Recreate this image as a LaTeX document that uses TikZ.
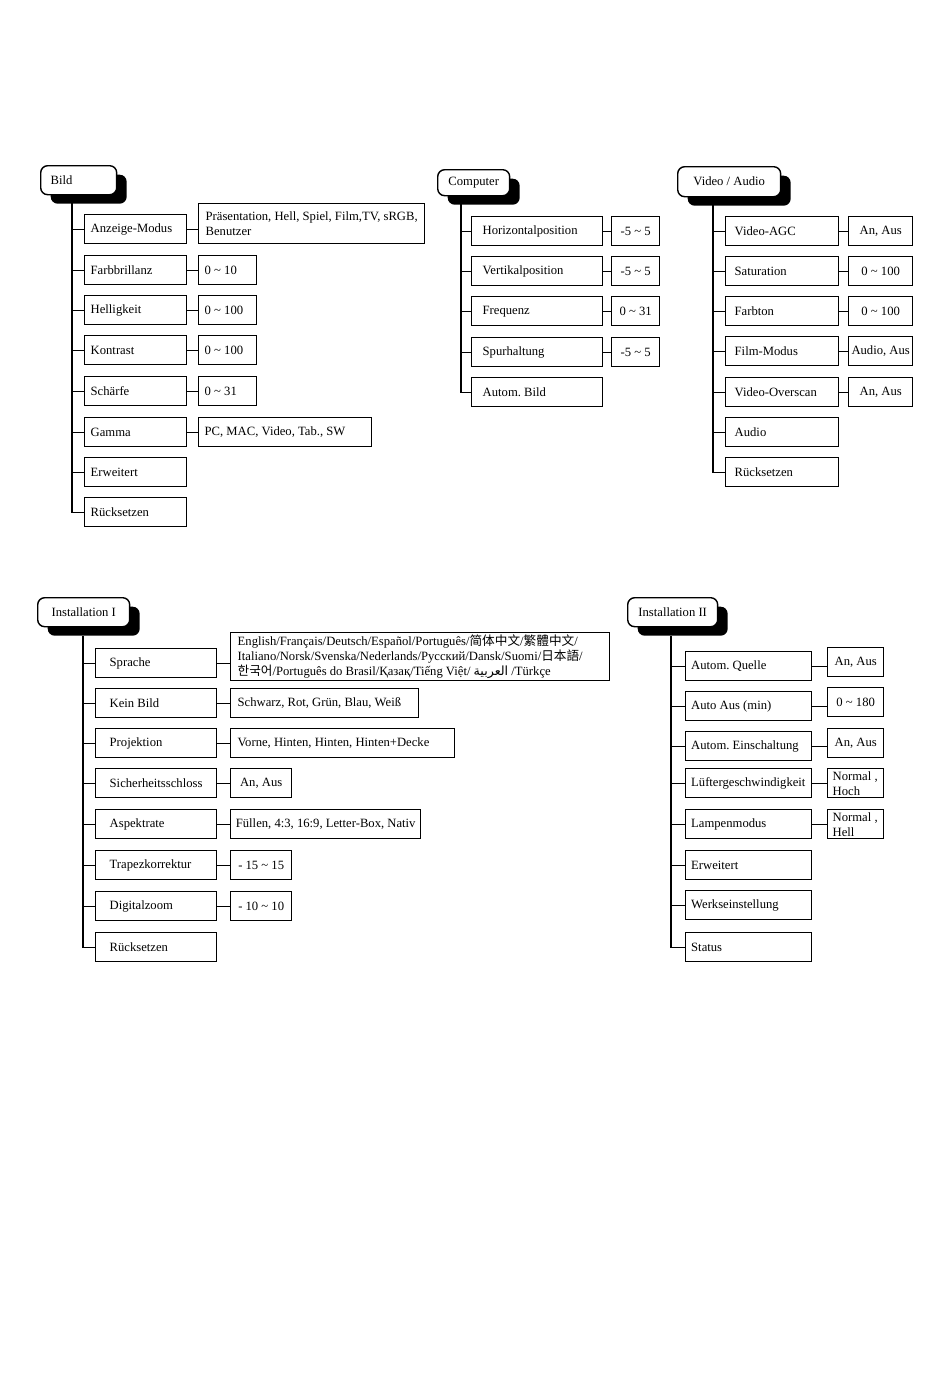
\documentclass[tikz,border=0pt]{standalone}
\usepackage{fontspec}
\setmainfont{Liberation Serif}
\newfontfamily\cjk{Noto Sans CJK SC}
\newfontfamily\krfont{Noto Sans CJK KR}
\newfontfamily\arabicfont[Script=Arabic]{DejaVu Sans}
\TeXXeTstate=1
\frenchspacing
\usetikzlibrary{shadows}
\newcommand*{\bis}{\textasciitilde}

\tikzset{
  head/.style={draw, fill=white, line width=0.8pt, rounded corners=0.14cm,
    anchor=north west, inner xsep=0.2cm, inner ysep=0pt, minimum height=0.58cm,
    align=flush left, drop shadow={shadow xshift=0.2cm, shadow yshift=-0.18cm,
    fill=black, opacity=1}},
  cell/.style={draw, line width=0.8pt, anchor=north west, inner ysep=0pt,
    minimum height=0.58cm},
  entry/.style={cell, align=flush left, text width=#1},
  pick/.style={cell, align=center, inner xsep=0.04cm, minimum width=#1},
  wire/.style={line width=0.8pt},
  every node/.style={font=\fontsize{7.2}{8.5}\selectfont}
}

\begin{document}
\begin{tikzpicture}[x=0.02cm, y=-0.02cm]
\useasboundingbox (0,0) rectangle (950,1387);

%bild
\node[head, text width=1.12cm] (bild) at (40,165) {Bild};
\coordinate (bildroot) at (72,203);
\begin{scope}[inner xsep=0.12cm]
\node[entry=1.80cm] (bmodus) at (84,214) {Anzeige-Modus};
\node[entry=1.80cm] (bfarb) at (84,255) {Farbbrillanz};
\node[entry=1.80cm] (bhell) at (84,295) {Helligkeit};
\node[entry=1.80cm] (bkontr) at (84,335) {Kontrast};
\node[entry=1.80cm] (bschaerfe) at (84,376) {Schärfe};
\node[entry=1.80cm] (bgamma) at (84,417) {Gamma};
\node[entry=1.80cm] (berw) at (84,457) {Erweitert};
\node[entry=1.80cm] (breset) at (84,497) {Rücksetzen};
\node[cell, align=left, minimum width=4.52cm, minimum height=0.8cm, inner xsep=0.1cm]
  (bmodusv) at (198,203) {Präsentation, Hell, Spiel, Film,TV, sRGB,\\Benutzer};
\node[entry=0.92cm] (bfarbv) at (198,255) {0 \bis{} 10};
\node[entry=0.92cm] (bhellv) at (198,295) {0 \bis{} 100};
\node[entry=0.92cm] (bkontrv) at (198,335) {0 \bis{} 100};
\node[entry=0.92cm] (bschaerfev) at (198,376) {0 \bis{} 31};
\node[entry=3.22cm] (bgammav) at (198,417) {PC, MAC, Video, Tab., SW};
\end{scope}
\draw[wire] (bildroot) |- (breset);
\draw[wire] (bmodus) -- (bmodus -| bildroot);
\draw[wire] (bfarb) -- (bfarb -| bildroot);
\draw[wire] (bhell) -- (bhell -| bildroot);
\draw[wire] (bkontr) -- (bkontr -| bildroot);
\draw[wire] (bschaerfe) -- (bschaerfe -| bildroot);
\draw[wire] (bgamma) -- (bgamma -| bildroot);
\draw[wire] (berw) -- (berw -| bildroot);
\draw[wire] (bmodus) -- (bmodus -| bmodusv.west);
\draw[wire] (bfarb) -- (bfarbv);
\draw[wire] (bhell) -- (bhellv);
\draw[wire] (bkontr) -- (bkontrv);
\draw[wire] (bschaerfe) -- (bschaerfev);
\draw[wire] (bgamma) -- (bgamma -| bgammav.west);

%computer
\node[head, minimum width=1.44cm, minimum height=0.52cm] (comp) at (437,169) {Computer};
\coordinate (comproot) at (461,203);
\begin{scope}[inner xsep=0.22cm]
\node[entry=2.18cm] (chpos) at (471,216) {Horizontalposition};
\node[entry=2.18cm] (cvpos) at (471,256) {Vertikalposition};
\node[entry=2.18cm] (cfreq) at (471,296) {Frequenz};
\node[entry=2.18cm] (cspur) at (471,337) {Spurhaltung};
\node[entry=2.18cm] (cauto) at (471,377) {Autom. Bild};
\end{scope}
\node[pick=0.96cm] (chposv) at (611,216) {-5 \bis{} 5};
\node[pick=0.96cm] (cvposv) at (611,256) {-5 \bis{} 5};
\node[pick=0.96cm] (cfreqv) at (611,296) {0 \bis{} 31};
\node[pick=0.96cm] (cspurv) at (611,337) {-5 \bis{} 5};
\draw[wire] (comproot) |- (cauto);
\draw[wire] (chpos) -- (chpos -| comproot);
\draw[wire] (cvpos) -- (cvpos -| comproot);
\draw[wire] (cfreq) -- (cfreq -| comproot);
\draw[wire] (cspur) -- (cspur -| comproot);
\draw[wire] (chpos) -- (chposv);
\draw[wire] (cvpos) -- (cvposv);
\draw[wire] (cfreq) -- (cfreqv);
\draw[wire] (cspur) -- (cspurv);

%video / audio
\node[head, minimum width=2.06cm, minimum height=0.6cm] (video) at (677,166) {Video / Audio};
\coordinate (videoroot) at (713,205);
\begin{scope}[inner xsep=0.18cm]
\node[entry=1.90cm] (vagc) at (725,216) {Video-AGC};
\node[entry=1.90cm] (vsat) at (725,256) {Saturation};
\node[entry=1.90cm] (vton) at (725,296) {Farbton};
\node[entry=1.90cm] (vfilm) at (725,336) {Film-Modus};
\node[entry=1.90cm] (vover) at (725,377) {Video-Overscan};
\node[entry=1.90cm] (vaudio) at (725,417) {Audio};
\node[entry=1.90cm] (vreset) at (725,457) {Rücksetzen};
\end{scope}
\node[pick=1.28cm] (vagcv) at (848,216) {An, Aus};
\node[pick=1.28cm] (vsatv) at (848,256) {0 \bis{} 100};
\node[pick=1.28cm] (vtonv) at (848,296) {0 \bis{} 100};
\node[pick=1.28cm] (vfilmv) at (848,336) {Audio, Aus};
\node[pick=1.28cm] (voverv) at (848,377) {An, Aus};
\draw[wire] (videoroot) |- (vreset);
\draw[wire] (vagc) -- (vagc -| videoroot);
\draw[wire] (vsat) -- (vsat -| videoroot);
\draw[wire] (vton) -- (vton -| videoroot);
\draw[wire] (vfilm) -- (vfilm -| videoroot);
\draw[wire] (vover) -- (vover -| videoroot);
\draw[wire] (vaudio) -- (vaudio -| videoroot);
\draw[wire] (vagc) -- (vagcv);
\draw[wire] (vsat) -- (vsatv);
\draw[wire] (vton) -- (vtonv);
\draw[wire] (vfilm) -- (vfilmv);
\draw[wire] (vover) -- (voverv);

%installation I
\node[head, minimum width=1.84cm] (inst) at (37,597) {Installation I};
\coordinate (instroot) at (83,636);
\begin{scope}[inner xsep=0.28cm]
\node[entry=1.86cm] (isprache) at (95,648) {Sprache};
\node[entry=1.86cm] (ikein) at (95,688) {Kein Bild};
\node[entry=1.86cm] (iproj) at (95,728) {Projektion};
\node[entry=1.86cm] (isicher) at (95,768) {Sicherheitsschloss};
\node[entry=1.86cm] (iaspekt) at (95,809) {Aspektrate};
\node[entry=1.86cm] (itrapez) at (95,850) {Trapezkorrektur};
\node[entry=1.86cm] (izoom) at (95,891) {Digitalzoom};
\node[entry=1.86cm] (ireset) at (95,932) {Rücksetzen};
\end{scope}
\begin{scope}[inner xsep=0.14cm]
\node[entry=7.30cm, minimum height=0.96cm] (isprachev) at (230,632)
  {English/Français/Deutsch/Español/Português/{\cjk 简体中文}/{\cjk 繁體中文}/\\
   Italiano/Norsk/Svenska/Nederlands/Русский/Dansk/Suomi/{\cjk 日本語}/\\
   {\krfont 한국어}/Português do Brasil/Қазақ/Tiếng Việt/ {\arabicfont\beginR العربية\endR} /Türkçe};
\node[entry=3.48cm] (ikeinv) at (230,688) {Schwarz, Rot, Grün, Blau, Weiß};
\node[entry=4.20cm] (iprojv) at (230,728) {Vorne, Hinten, Hinten, Hinten+Decke};
\end{scope}
\node[pick=1.22cm] (isicherv) at (230,768) {An, Aus};
\node[pick=3.80cm] (iaspektv) at (230,809) {Füllen, 4:3, 16:9, Letter-Box, Nativ};
\node[pick=1.22cm] (itrapezv) at (230,850) {- 15 \bis{} 15};
\node[pick=1.22cm] (izoomv) at (230,891) {- 10 \bis{} 10};
\draw[wire] (instroot) |- (ireset);
\draw[wire] (isprache) -- (isprache -| instroot);
\draw[wire] (ikein) -- (ikein -| instroot);
\draw[wire] (iproj) -- (iproj -| instroot);
\draw[wire] (isicher) -- (isicher -| instroot);
\draw[wire] (iaspekt) -- (iaspekt -| instroot);
\draw[wire] (itrapez) -- (itrapez -| instroot);
\draw[wire] (izoom) -- (izoom -| instroot);
\draw[wire] (isprache) -- (isprache -| isprachev.west);
\draw[wire] (ikein) -- (ikeinv);
\draw[wire] (iproj) -- (iprojv);
\draw[wire] (isicher) -- (isicherv);
\draw[wire] (iaspekt) -- (iaspektv);
\draw[wire] (itrapez) -- (itrapezv);
\draw[wire] (izoom) -- (izoomv);

%installation II
\node[head, minimum width=1.80cm] (instb) at (627,597) {Installation II};
\coordinate (instbroot) at (671,636);
\begin{scope}[inner xsep=0.11cm]
\node[entry=2.30cm] (jquelle) at (685,651) {Autom. Quelle};
\node[entry=2.30cm] (jaus) at (685,691) {Auto Aus (min)};
\node[entry=2.30cm] (jein) at (685,731) {Autom. Einschaltung};
\node[entry=2.30cm] (jluefter) at (685,768) {Lüftergeschwindigkeit};
\node[entry=2.30cm] (jlampe) at (685,809) {Lampenmodus};
\node[entry=2.30cm] (jerw) at (685,850) {Erweitert};
\node[entry=2.30cm] (jwerk) at (685,890) {Werkseinstellung};
\node[entry=2.30cm] (jstatus) at (685,932) {Status};
\end{scope}
\node[pick=1.12cm] (jquellev) at (827,647) {An, Aus};
\node[pick=1.12cm] (jausv) at (827,687) {0 \bis{} 180};
\node[pick=1.12cm] (jeinv) at (827,728) {An, Aus};
\begin{scope}[inner xsep=0.1cm]
\node[entry=0.92cm] (jluefterv) at (827,768) {Normal~,\\Hoch};
\node[entry=0.92cm] (jlampev) at (827,809) {Normal~,\\Hell};
\end{scope}
\draw[wire] (instbroot) |- (jstatus);
\draw[wire] (jquelle) -- (jquelle -| instbroot);
\draw[wire] (jaus) -- (jaus -| instbroot);
\draw[wire] (jein) -- (jein -| instbroot);
\draw[wire] (jluefter) -- (jluefter -| instbroot);
\draw[wire] (jlampe) -- (jlampe -| instbroot);
\draw[wire] (jerw) -- (jerw -| instbroot);
\draw[wire] (jwerk) -- (jwerk -| instbroot);
\draw[wire] (jquelle) -- (jquelle -| jquellev.west);
\draw[wire] (jaus) -- (jaus -| jausv.west);
\draw[wire] (jein) -- (jein -| jeinv.west);
\draw[wire] (jluefter) -- (jluefterv);
\draw[wire] (jlampe) -- (jlampev);

\end{tikzpicture}
\end{document}
